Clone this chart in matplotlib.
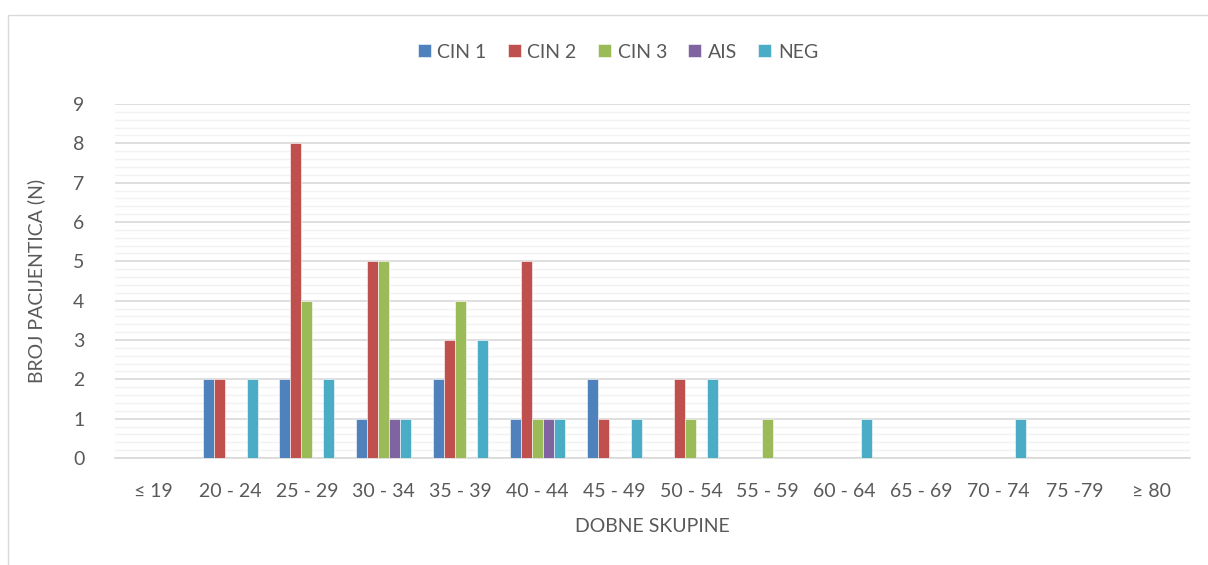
import matplotlib
matplotlib.use("Agg")
import matplotlib.pyplot as plt
import numpy as np
from matplotlib.patches import Rectangle

categories = ["≤ 19", "20 - 24", "25 - 29", "30 - 34", "35 - 39", "40 - 44", "45 - 49",
              "50 - 54", "55 - 59", "60 - 64", "65 - 69", "70 - 74", "75 -79", "≥ 80"]
cin1 = [0, 2, 2, 1, 2, 1, 2, 0, 0, 0, 0, 0, 0, 0]
cin2 = [0, 2, 8, 5, 3, 5, 1, 2, 0, 0, 0, 0, 0, 0]
cin3 = [0, 0, 4, 5, 4, 1, 0, 1, 1, 0, 0, 0, 0, 0]
ais = [0, 0, 0, 1, 0, 1, 0, 0, 0, 0, 0, 0, 0, 0]
neg = [0, 2, 2, 1, 3, 1, 1, 2, 0, 1, 0, 1, 0, 0]
series_names = ["CIN 1", "CIN 2", "CIN 3", "AIS", "NEG"]
series = [cin1, cin2, cin3, ais, neg]
colors = ["#4F81BD", "#C0504D", "#9BBB59", "#8064A2", "#4BACC6"]

plt.rcParams['font.family'] = ['Lato', 'DejaVu Sans']
txt = "#595959"

fig = plt.figure(figsize=(12.08, 5.65), dpi=100)
fig.patches.append(Rectangle((8/1208, -0.1), 1.2, (565-15)/565 + 0.1, transform=fig.transFigure,
                             fill=False, edgecolor="#D9D9D9", linewidth=1))
ax = fig.add_axes([115/1208, 1-458/565, (1190-115)/1208, (458-104)/565])

n = len(categories)
x = np.arange(n)
w = 11/76.8
for i, (name, vals, c) in enumerate(zip(series_names, series, colors)):
    ax.bar(x + (i - 2) * w, vals, width=w, color=c, label=name, edgecolor="white",
           linewidth=0.4, zorder=3)

ax.set_xlim(-0.5, n - 0.5)
ax.set_ylim(0, 9)
ax.set_yticks(range(10))
ax.set_yticks(np.arange(0, 9.01, 0.2), minor=True)
ax.tick_params(axis='y', which='minor', length=0)
ax.grid(axis='y', which='major', color="#D9D9D9", linewidth=1.2, zorder=0)
ax.grid(axis='y', which='minor', color="#F2F2F2", linewidth=1.0, zorder=0)
ax.set_axisbelow(True)
ax.set_xticks(x)
ax.set_xticklabels(categories)
ax.tick_params(axis='both', length=0, labelsize=14, labelcolor=txt)
ax.tick_params(axis='x', pad=18)
ax.tick_params(axis='y', pad=22)
for s in ['top', 'right', 'left']:
    ax.spines[s].set_visible(False)
ax.spines['bottom'].set_color("#D9D9D9")
ax.spines['bottom'].set_linewidth(1.2)

ax.set_xlabel("DOBNE SKUPINE", fontsize=14, color=txt, labelpad=13)
ax.set_ylabel("BROJ PACIJENTICA (N)", fontsize=14, color=txt, labelpad=20)

leg = fig.legend(loc='center', bbox_to_anchor=(618/1208, 1 - 52/565), ncol=5, frameon=False,
                 fontsize=14, handlelength=0.65, handleheight=0.65, handletextpad=0.35,
                 columnspacing=1.1)
for t in leg.get_texts():
    t.set_color(txt)

fig.savefig("out.png", dpi=100)
